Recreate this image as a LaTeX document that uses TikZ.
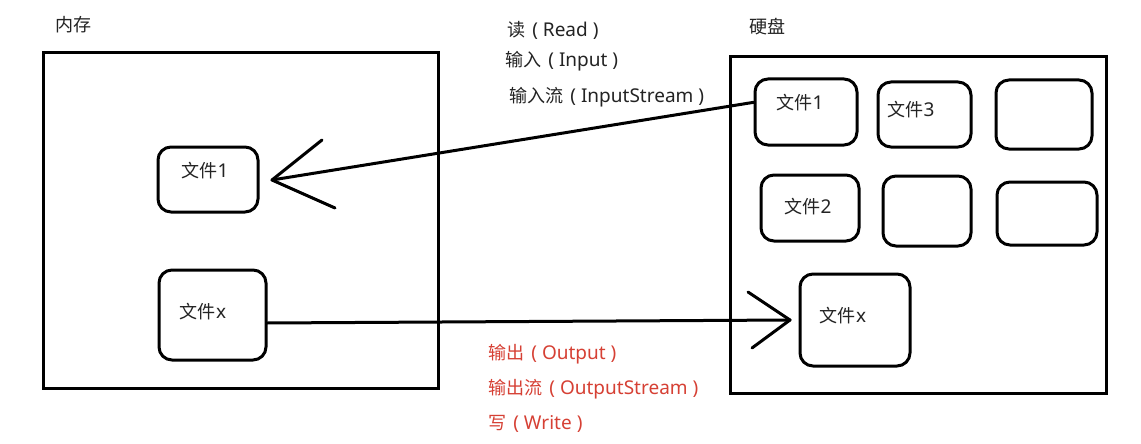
\documentclass[tikz,border=0pt]{standalone}
\usepackage{fontspec}
\setmainfont{Noto Sans}
\newfontfamily\cjk[Scale=0.95]{Noto Sans CJK SC}
\usetikzlibrary{calc}
\definecolor{redtxt}{RGB}{214,64,52}
\definecolor{greytxt}{RGB}{35,35,35}
\newcommand\zh[1]{{\cjk #1}}
\newcommand\pl[1]{\hspace{7pt}(\hspace{5pt}#1\hspace{5pt})}
\tikzset{
  frame/.style={draw=black, line width=3pt},
  filebox/.style={draw=black, line width=3pt, rounded corners=13pt, inner sep=0pt},
  ftext/.style={font=\fontsize{19}{19}\selectfont, text=greytxt, inner sep=0pt},
  lbl/.style={font=\fontsize{19}{19}\selectfont, text=greytxt, inner sep=0pt, anchor=west},
  rlbl/.style={font=\fontsize{19}{19}\selectfont, text=redtxt, inner sep=0pt, anchor=west},
  conn/.style={draw=black, line width=3pt, line cap=round, line join=round},
}
\begin{document}
\begin{tikzpicture}[x=1pt,y=-1pt]
\useasboundingbox (0,0) rectangle (1141,444);
\fill[white] (0,0) rectangle (1141,444);
% titles
\node[lbl] (mem) at (55,25) {\zh{内存}};
\node[lbl] (disk) at (749,27) {\zh{硬盘}};
% frames
\node[frame, minimum width=395pt, minimum height=335pt, inner sep=0pt] (memframe) at (240.5,220.5) {};
\node[frame, minimum width=376pt, minimum height=336pt, inner sep=0pt] (diskframe) at (918,225) {};
% memory boxes
\node[filebox, minimum width=100pt, minimum height=65pt] (l1) at (208,179.5) {};
\node[ftext] (l1t) at (205,171) {\zh{文件}1};
\node[filebox, minimum width=107pt, minimum height=90pt] (l2) at (212.5,315) {};
\node[ftext] (l2t) at (203,312) {\zh{文件}x};
% disk boxes
\node[filebox, minimum width=102pt, minimum height=66pt] (r1) at (806,112) {};
\node[ftext] (r1t) at (800,103) {\zh{文件}1};
\node[filebox, minimum width=93pt, minimum height=65pt] (r3) at (924.5,114.5) {};
\node[ftext] (r3t) at (911,110) {\zh{文件}3};
\node[filebox, minimum width=96pt, minimum height=69pt] (r5) at (1044,114.5) {};
\node[filebox, minimum width=98pt, minimum height=66pt] (r2) at (810,208) {};
\node[ftext] (r2t) at (808,207) {\zh{文件}2};
\node[filebox, minimum width=88pt, minimum height=70pt] (r4) at (927,211) {};
\node[filebox, minimum width=100pt, minimum height=63pt] (r6) at (1047,213.5) {};
\node[filebox, minimum width=110pt, minimum height=92pt] (rx) at (855,320) {};
\node[ftext] (rxt) at (843,316) {\zh{文件}x};
% read arrow
\coordinate (rtip) at (272,180);
\draw[conn] ($(r1.north west)!0.36!(r1.south west)$) -- (rtip);
\draw[conn] (322,140) -- (rtip) -- (335,208);
% write arrow
\coordinate (wtip) at (790,320);
\draw[conn] ($(l2.east)+(0,8)$) -- (wtip);
\draw[conn] (748,292) -- (wtip) -- (752,348);
% read labels
\node[lbl] (rd1) at (507,30) {\zh{读}\pl{Read}};
\node[lbl] (rd2) at (505,61) {\zh{输入}\pl{Input}};
\node[lbl] (rd3) at (509,97) {\zh{输入流}\pl{InputStream}};
% write labels
\node[rlbl] (wr1) at (488,354) {\zh{输出}\pl{Output}};
\node[rlbl] (wr2) at (488,389) {\zh{输出流}\pl{OutputStream}};
\node[rlbl] (wr3) at (488,424) {\zh{写}\pl{Write}};
\end{tikzpicture}
\end{document}
